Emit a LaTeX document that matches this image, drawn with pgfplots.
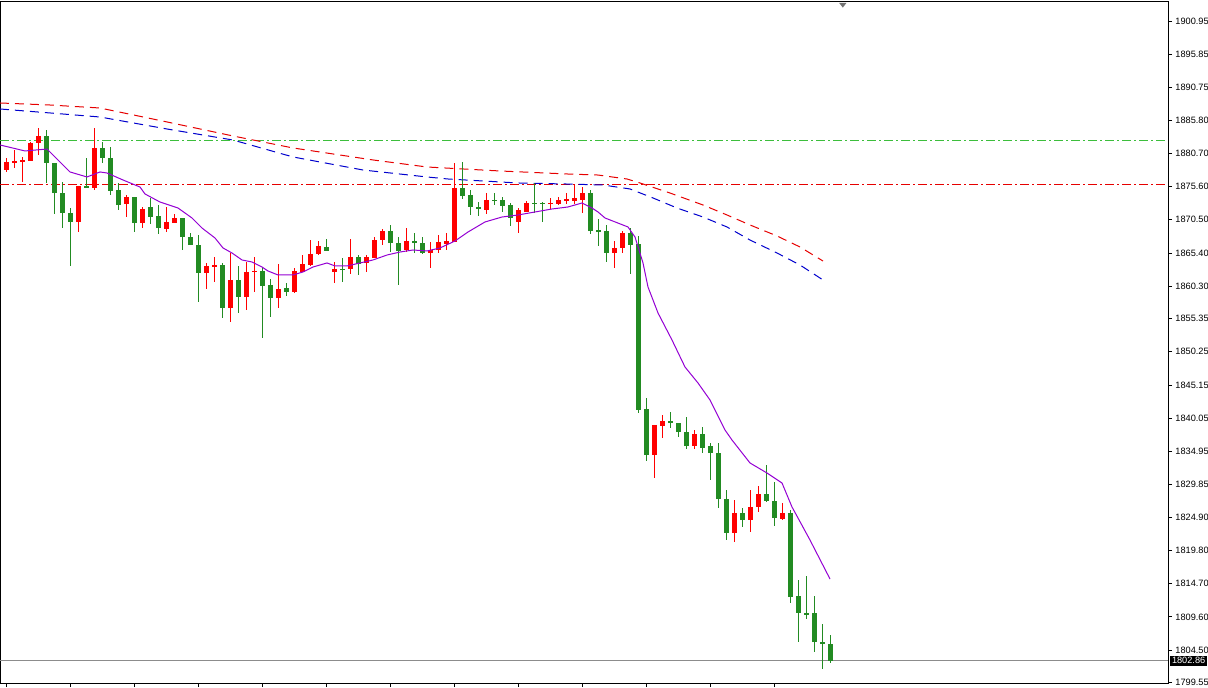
\documentclass[border=0pt]{standalone}
\usepackage{fontspec}
\setmainfont{Liberation Sans}
\usepackage{pgfplots}
\usepackage{pgfplotstable}
\pgfplotsset{compat=1.18}
\definecolor{cgreen}{RGB}{34,139,34}
\definecolor{cred}{RGB}{255,0,0}
\definecolor{mapurple}{RGB}{148,0,211}
\definecolor{mablue}{RGB}{0,0,205}
\definecolor{mared}{RGB}{230,0,0}
\definecolor{lgreen}{RGB}{60,190,60}

\pgfplotstableread{
i O H L C
0 1878.14 1879.98 1877.84 1879.37
1 1879.22 1881.21 1878.45 1879.52
2 1879.37 1880.14 1876.30 1879.68
3 1879.52 1882.44 1879.52 1882.28
4 1882.28 1884.59 1880.44 1883.36
9 1870.17 1875.69 1868.63 1875.69
11 1875.38 1884.59 1875.07 1881.52
15 1872.93 1874.31 1870.93 1874.00
17 1870.01 1872.47 1869.24 1872.16
20 1869.09 1872.47 1868.63 1870.17
21 1870.01 1871.39 1870.01 1870.78
25 1862.34 1863.88 1859.89 1863.42
26 1863.26 1864.80 1860.96 1863.57
28 1856.97 1865.41 1854.83 1861.27
30 1858.66 1864.03 1856.67 1862.50
31 1862.50 1864.80 1859.43 1862.65
34 1858.51 1863.72 1856.97 1859.89
36 1859.43 1863.11 1859.27 1862.65
37 1862.50 1865.10 1862.50 1863.72
38 1863.57 1867.40 1863.42 1865.26
39 1865.26 1867.25 1865.10 1866.48
41 1862.50 1864.03 1860.81 1862.96
43 1862.96 1867.56 1862.19 1864.80
45 1863.88 1865.10 1862.50 1864.80
46 1864.64 1867.86 1864.64 1867.40
47 1867.40 1869.09 1866.64 1868.78
50 1865.87 1869.24 1865.56 1867.25
53 1865.41 1867.10 1863.11 1865.87
54 1865.87 1868.17 1865.41 1867.10
55 1866.79 1868.48 1865.87 1867.25
56 1867.10 1879.22 1867.10 1875.38
60 1872.01 1874.61 1871.39 1873.54
64 1870.17 1872.31 1868.48 1872.01
65 1871.70 1873.39 1871.70 1873.08
68 1872.93 1873.85 1872.16 1873.08
69 1872.93 1874.00 1872.77 1873.54
70 1873.39 1874.61 1872.93 1873.69
71 1873.39 1875.84 1872.93 1873.85
72 1873.54 1875.53 1871.55 1874.61
76 1865.41 1867.25 1863.11 1866.18
77 1866.18 1868.78 1865.41 1868.48
81 1834.42 1839.03 1830.90 1839.03
82 1838.87 1840.56 1837.03 1839.64
86 1835.80 1838.26 1835.34 1837.64
91 1822.46 1827.52 1821.08 1825.53
93 1824.45 1829.05 1822.61 1826.45
94 1826.45 1829.67 1825.68 1828.44
97 1824.61 1827.06 1824.45 1825.53
}\upT

\pgfplotstableread{
i O H L C
5 1883.36 1884.28 1876.15 1879.22
6 1879.22 1879.22 1871.39 1874.61
7 1874.61 1876.30 1869.24 1871.55
8 1871.55 1872.31 1863.42 1870.17
10 1875.69 1879.98 1875.38 1875.38
12 1881.52 1882.44 1879.22 1879.98
13 1879.98 1881.67 1874.31 1874.92
14 1875.07 1876.15 1872.01 1872.77
16 1874.00 1874.00 1868.63 1870.01
18 1872.47 1873.85 1869.86 1870.93
19 1871.09 1872.77 1868.32 1869.24
22 1870.78 1870.78 1865.87 1867.86
23 1867.86 1868.48 1866.64 1866.64
24 1866.64 1868.17 1857.89 1862.34
27 1863.57 1863.88 1855.44 1856.97
29 1861.27 1863.42 1856.21 1858.66
32 1862.65 1863.11 1852.37 1860.35
33 1860.50 1861.42 1855.59 1858.51
35 1860.04 1860.81 1858.81 1859.43
40 1866.33 1867.56 1865.72 1865.72
42 1862.96 1864.64 1860.96 1862.80
44 1864.80 1865.10 1862.04 1863.72
48 1868.78 1869.71 1865.56 1866.94
49 1866.94 1867.86 1860.50 1865.72
51 1867.25 1868.48 1865.41 1866.94
52 1866.94 1867.86 1865.26 1865.41
57 1875.38 1879.37 1873.69 1874.15
58 1874.31 1875.07 1871.24 1872.47
59 1872.47 1873.23 1871.09 1872.16
61 1873.54 1874.61 1872.77 1873.39
62 1873.54 1874.00 1871.70 1872.62
63 1872.77 1873.08 1869.55 1870.78
66 1873.08 1876.15 1871.55 1872.93
67 1873.08 1873.23 1870.17 1872.93
73 1874.61 1875.07 1868.32 1868.78
74 1868.94 1870.63 1866.48 1868.63
75 1868.78 1869.71 1864.03 1865.41
78 1868.48 1869.24 1862.19 1866.64
79 1866.79 1868.02 1840.87 1841.33
80 1841.48 1843.17 1833.50 1834.42
83 1839.64 1841.02 1838.56 1839.33
84 1839.33 1839.33 1837.18 1837.95
85 1837.95 1840.25 1835.34 1835.80
87 1837.64 1838.72 1834.73 1835.50
88 1835.80 1836.26 1830.59 1834.73
89 1834.73 1836.26 1826.29 1827.67
90 1827.67 1829.05 1821.38 1822.46
92 1825.53 1826.29 1823.38 1824.45
95 1828.44 1832.89 1827.21 1827.37
96 1827.37 1830.28 1823.53 1824.76
98 1825.53 1825.99 1811.72 1812.64
99 1812.79 1815.25 1805.74 1810.19
100 1810.19 1815.86 1809.27 1809.88
101 1810.19 1812.79 1804.20 1805.74
102 1805.74 1808.50 1801.60 1805.43
103 1805.43 1806.81 1802.52 1802.86
}\downT

\begin{document}
\begin{tikzpicture}
\useasboundingbox (0,-2pt) rectangle (604pt,341.5pt);
\begin{axis}[
  at={(0,0)}, anchor=south west,
  scale only axis, width=584pt, height=340.5pt,
  xmin=-0.75, xmax=145.25, ymin=1799.45, ymax=1903.91,
  clip=false,
  axis line style={black, line width=0.5pt},
  xtick={0,8,...,96}, xticklabels={}, xtick pos=bottom,
  ytick={1900.95,1895.85,1890.75,1885.80,1880.70,1875.60,1870.50,1865.40,1860.30,1855.35,1850.25,1845.15,1840.05,1834.95,1829.85,1824.90,1819.80,1814.70,1809.60,1804.50,1799.55},
  yticklabels={1900.95,1895.85,1890.75,1885.80,1880.70,1875.60,1870.50,1865.40,1860.30,1855.35,1850.25,1845.15,1840.05,1834.95,1829.85,1824.90,1819.80,1814.70,1809.60,1804.50,1799.55},
  ytick pos=right, yticklabel pos=right,
  tick align=outside, major tick length=2pt,
  tick style={black, line width=0.5pt},
  yticklabel style={font=\fontsize{4.6pt}{5pt}\selectfont, inner sep=0pt, xshift=1.5pt},
  /pgf/number format/assume math mode=true,
]
% horizontal levels
\addplot[lgreen, line width=0.5pt, dash pattern=on 4.5pt off 1.5pt on 1pt off 1.5pt] coordinates {(-0.75,1882.59) (145.25,1882.59)};
\addplot[mared, line width=0.5pt, dash pattern=on 4.5pt off 1.5pt on 1pt off 1.5pt] coordinates {(-0.75,1875.99) (145.25,1875.99)};
\addplot[black!45, line width=0.5pt] coordinates {(-0.75,1802.86) (145.25,1802.86)};

% slow moving averages
\addplot[mared, line width=0.5pt, dash pattern=on 4.5pt off 3pt] coordinates {
(-0.75,1888.42) (5.5,1888.11) (11.75,1887.65) (20.125,1885.51) (28.375,1883.36)
(35.875,1881.52) (45.875,1879.68) (52.625,1878.60) (61.75,1877.99) (70.125,1877.53)
(74,1877.37) (77.625,1876.76) (79.25,1876.15) (83,1874.61) (87.125,1872.77)
(90.125,1871.24) (93,1869.71) (96.375,1868.02) (99.25,1866.33) (102.125,1864.18)};
\addplot[mablue, line width=0.5pt, dash pattern=on 4.5pt off 3pt] coordinates {
(-0.75,1887.50) (5.5,1886.89) (11.75,1886.27) (20.125,1884.43) (28.375,1882.74)
(35.875,1880.14) (44.625,1878.14) (52.625,1877.07) (55.25,1876.76) (64,1876.15)
(70.125,1875.99) (74.625,1875.84) (78,1875.23) (80.875,1873.85) (83.875,1872.31)
(87.125,1870.93) (90.125,1869.40) (93,1867.40) (96.375,1865.41) (99.25,1863.57) (102.125,1861.27)};

% wicks
\addplot[draw=none, mark=none, forget plot,
  error bars/.cd, y dir=both, y explicit, error mark=none,
  error bar style={draw=cred, solid, line width=0.5pt}]
  table[x=i, y=C, y error plus expr=\thisrow{H}-\thisrow{C}, y error minus expr=\thisrow{C}-\thisrow{L}] {\upT};
\addplot[draw=none, mark=none, forget plot,
  error bars/.cd, y dir=both, y explicit, error mark=none,
  error bar style={draw=cgreen, solid, line width=0.5pt}]
  table[x=i, y=C, y error plus expr=\thisrow{H}-\thisrow{C}, y error minus expr=\thisrow{C}-\thisrow{L}] {\downT};
% bodies
\addplot[draw=none, mark=none, forget plot,
  error bars/.cd, y dir=minus, y explicit, error mark=none,
  error bar style={draw=cred, solid, line width=2.5pt}]
  table[x=i, y=C, y error minus expr=\thisrow{C}-\thisrow{O}] {\upT};
\addplot[draw=none, mark=none, forget plot,
  error bars/.cd, y dir=plus, y explicit, error mark=none,
  error bar style={draw=cgreen, solid, line width=2.5pt}]
  table[x=i, y=C, y error plus expr=\thisrow{O}-\thisrow{C}] {\downT};

% fast moving average
\addplot[mapurple, line width=0.5pt] coordinates {
(-0.75,1881.98) (2.375,1881.06) (5.125,1881.36) (8,1877.84) (10.125,1877.07)
(11.75,1877.84) (12.625,1877.68) (14.625,1876.61) (16.75,1875.53) (17.375,1874.46)
(19.25,1873.23) (21.5,1872.31) (23.25,1870.78) (24.5,1869.24) (26.125,1867.71)
(27.125,1866.18) (28.25,1865.41) (29.5,1864.34) (30.75,1864.03) (32,1863.26)
(32.75,1862.65) (34,1862.04) (35.875,1862.04) (37.125,1862.50) (38.375,1863.26)
(40.125,1863.88) (41.125,1863.42) (42.625,1863.42) (44.25,1863.88) (45.875,1864.34)
(47.625,1865.10) (49.25,1865.56) (50.875,1865.87) (52.625,1865.72) (54.25,1866.18)
(56.125,1867.25) (57.75,1868.63) (59.875,1870.17) (62,1870.93) (64,1871.24)
(66.125,1871.70) (68.25,1872.16) (70.25,1872.47) (72,1873.08) (73.25,1872.31)
(74,1871.70) (74.875,1870.78) (77.75,1869.40) (78.625,1867.86) (79.625,1863.88)
(80.25,1860.19) (81.5,1856.21) (83.25,1852.06) (84.875,1847.92) (86.5,1845.47)
(88,1842.86) (89.875,1838.26) (90.75,1836.72) (93,1833.20) (95.125,1831.66)
(97,1830.13) (98.25,1826.45) (100.5,1821.38) (103,1815.40)};

% chart shift marker
\fill[black!55] (axis cs:104.15,1903.76) -- (axis cs:105.05,1903.76) -- (axis cs:104.6,1903.05) -- cycle;
% current price label
\node[fill=black, text=white, font=\fontsize{4.6pt}{5pt}\selectfont, inner sep=0.8pt, anchor=west, xshift=1pt]
  at (axis cs:145.25,1802.86) {1802.86};
\end{axis}
\end{tikzpicture}
\end{document}
